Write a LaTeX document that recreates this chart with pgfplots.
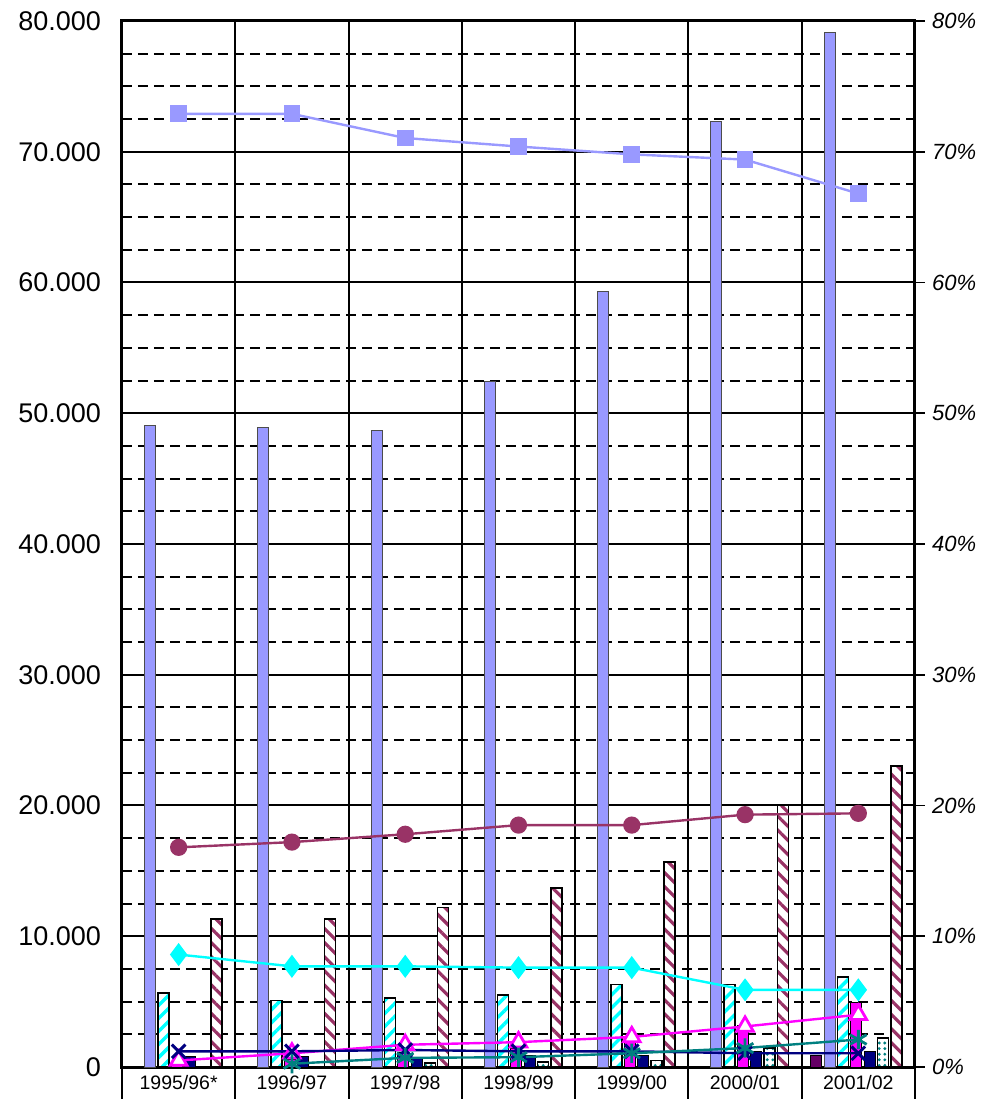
\documentclass[border=0pt]{standalone}
\usepackage{fontspec}
\setmainfont{Liberation Sans}
\usepackage{pgfplots}
\usepackage{pgfplotstable}
\pgfplotsset{compat=1.18}
\usetikzlibrary{patterns.meta}
\definecolor{lav}{HTML}{9999FF}
\definecolor{maroonc}{HTML}{993366}
\definecolor{cyanc}{HTML}{00FFFF}
\definecolor{magc}{HTML}{FF00FF}
\definecolor{navyc}{HTML}{000080}
\definecolor{tealc}{HTML}{008080}
\definecolor{purpc}{HTML}{660066}

\pgfplotstableread{
x blue cyan mag navy maroon
0 49100 5660 350 840 11300
1 48900 5100 550 840 11300
2 48700 5300 1100 650 12200
3 52400 5500 1400 900 13700
4 59300 6300 1900 850 15700
5 72350 6300 3200 1150 20000
6 79100 6900 4900 1150 23000
}\bars

\pgfplotstableread{
x teal
2 300
3 400
4 500
5 1450
6 2200
}\tealbars

\pgfplotstableread{
x lav mar cyan mag navy
0 72.9 16.8 8.6 0.5 1.2
1 72.9 17.2 7.7 1.05 1.2
2 71.05 17.8 7.7 1.7 1.3
3 70.4 18.5 7.6 1.9 1.2
4 69.8 18.5 7.6 2.3 1.2
5 69.4 19.3 5.9 3.1 1.05
6 66.8 19.4 5.9 4.0 1.05
}\pct

\pgfplotstableread{
x teal
1 0.25
2 0.7
3 0.75
4 1.05
5 1.45
6 2.1
}\tealpct

\begin{document}
\begin{tikzpicture}
\begin{axis}[
  at={(0,0)}, anchor=south west, scale only axis,
  width=396.5pt, height=523pt,
  xmin=-0.5, xmax=6.5, ymin=0, ymax=80000,
  /pgf/number format/assume math mode=true,
  scaled y ticks=false,
  ytick={0,10000,...,80000},
  minor y tick num=3,
  ytick pos=left,
  tick align=inside,
  major tick length=5pt, minor tick length=5pt,
  yticklabel style={font=\fontsize{13.5}{16}\selectfont, xshift=-7pt,
     /pgf/number format/.cd, fixed, 1000 sep={.}},
  xtick={0,...,6},
  xticklabels={1995/96*,1996/97,1997/98,1998/99,1999/00,2000/01,2001/02},
  xtick style={draw=none},
  xticklabel style={font=\fontsize{9.75}{11}\selectfont, yshift=-0.5pt},
  extra x ticks={0.5,1.5,...,5.5},
  extra x tick labels={},
  extra x tick style={grid=major},
  ymajorgrids, yminorgrids,
  major grid style={black, line width=1pt, solid},
  minor grid style={black, line width=1pt, dash pattern=on 5pt off 3pt},
  axis line style={black, line width=1.5pt},
  tick style={black, line width=0.8pt},
]
\addplot[ybar, bar width=5.5pt, bar shift=-14.3pt, fill=lav, draw=black!70, line width=0.5pt]
  table[x=x,y=blue]{\bars};
\addplot[ybar, bar width=5.5pt, bar shift=-7.65pt, fill=white, draw=black, line width=0.8pt,
  postaction={pattern color=cyanc, pattern={Lines[angle=45,distance=4.6pt,line width=1.7pt]}}]
  table[x=x,y=cyan]{\bars};
\addplot[ybar, bar width=5.5pt, bar shift=-1pt, fill=magc, draw=black, line width=0.5pt]
  table[x=x,y=mag]{\bars};
\addplot[ybar, bar width=5.5pt, bar shift=5.65pt, fill=navyc, draw=black, line width=0.5pt]
  table[x=x,y=navy]{\bars};
\addplot[ybar, bar width=5.5pt, bar shift=12.3pt, fill=white, draw=black, line width=0.8pt,
  postaction={pattern color=tealc, pattern={Dots[distance=2.8pt,radius=0.8pt]}}]
  table[x=x,y=teal]{\tealbars};
\addplot[ybar, bar width=5.5pt, bar shift=18.95pt, fill=white, draw=black, line width=0.8pt,
  postaction={pattern color=maroonc, pattern={Lines[angle=-45,distance=5pt,line width=1.6pt]}}]
  table[x=x,y=maroon]{\bars};
\addplot[ybar, bar width=5.5pt, bar shift=-20.95pt, fill=purpc, draw=black, line width=0.5pt]
  coordinates {(6,900)};
\end{axis}

\begin{axis}[
  at={(0,0)}, anchor=south west, scale only axis,
  width=396.5pt, height=523pt,
  xmin=-0.5, xmax=6.5, ymin=0, ymax=80,
  axis x line=none,
  axis y line*=right,
  axis line style={black, line width=1.5pt},
  /pgf/number format/assume math mode=true,
  ytick={0,10,...,80},
  tick align=outside,
  major tick length=5pt,
  tick style={black, line width=0.8pt},
  yticklabel={\itshape\pgfmathprintnumber{\tick}\%},
  yticklabel style={font=\fontsize{11}{13}\selectfont, xshift=0pt},
]
\addplot[color=lav, line width=1.2pt, mark=square*, mark size=3.6pt, mark options={fill=lav, draw=lav}]
  table[x=x,y=lav]{\pct};
\addplot[color=maroonc, line width=1.2pt, mark=*, mark size=3.7pt, mark options={fill=maroonc}]
  table[x=x,y=mar]{\pct};
\addplot[color=cyanc, line width=1.2pt, mark=diamond*, mark size=4.8pt, mark options={fill=cyanc}]
  table[x=x,y=cyan]{\pct};
\addplot[color=magc, line width=1.2pt, mark=triangle*, mark size=4.8pt, mark options={fill=white, line width=1.4pt}]
  table[x=x,y=mag]{\pct};
\addplot[color=navyc, line width=1.2pt, mark=x, mark size=4.8pt, mark options={line width=1.5pt}]
  table[x=x,y=navy]{\pct};
\addplot[color=tealc, line width=1.2pt, mark=asterisk, mark size=4.8pt, mark options={line width=1.4pt}]
  table[x=x,y=teal]{\tealpct};
\end{axis}

\foreach \i in {0,...,7} {
  \draw[black, line width=1pt] (\i*396.5pt/7, 0pt) -- (\i*396.5pt/7, -16pt);
}
\pgfresetboundingbox
\path (-61pt,-16pt) rectangle (430.5pt,533.5pt);
\end{tikzpicture}
\end{document}
